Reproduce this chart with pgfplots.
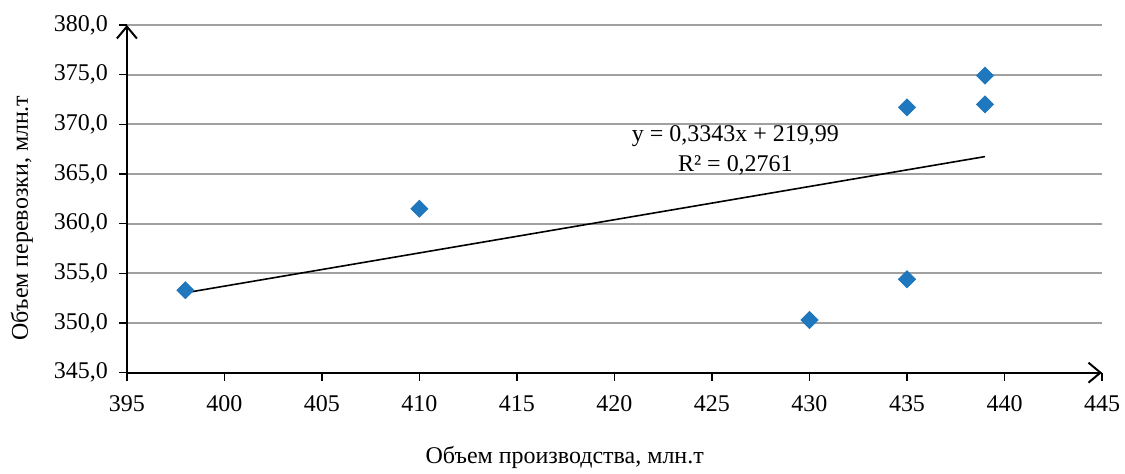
\documentclass[border=0pt]{standalone}
\usepackage{pgfplots}
\pgfplotsset{compat=1.18}
\usetikzlibrary{arrows.meta}
\usepackage{fontspec}
\setmainfont{Liberation Serif}
\definecolor{ptblue}{RGB}{31,119,189}
\definecolor{gridgray}{RGB}{160,160,160}
\begin{document}
\begin{tikzpicture}
\useasboundingbox (-63.5pt,-50.5pt) rectangle (499.5pt,186.5pt);
\begin{axis}[
  at={(0,0)}, anchor=south west,
  scale only axis, width=488pt, height=174pt,
  xmin=395, xmax=445, ymin=345, ymax=380,
  xtick={395,400,...,445}, ytick={345,350,...,380},
  axis x line=bottom, axis y line=left,
  axis line style={line width=1pt, -{Straight Barb[length=6pt,width=10pt,line width=1pt]}},
  tick align=outside, major tick length=4pt,
  tick style={black, line width=0.8pt},
  ymajorgrids, grid style={gridgray, line width=1pt},
  tick label style={font=\fontsize{12}{14}\selectfont},
  xticklabel={\pgfmathprintnumber[assume math mode=true,fixed,precision=0]{\tick}},
  yticklabel={\pgfmathprintnumber[assume math mode=true,fixed,fixed zerofill,precision=1,use comma]{\tick}},
  yticklabel style={xshift=-2pt},
  xticklabel style={yshift=-4pt},
  label style={font=\fontsize{12}{14}\selectfont},
  xlabel={Объем производства, млн.т},
  xlabel style={at={(axis description cs:0.449,-0.2443)}, anchor=center},
  ylabel={Объем перевозки, млн.т},
  ylabel style={at={(axis description cs:-0.1076,0.445)}, anchor=center},
  clip=false,
]
\addplot[only marks, mark=square*, mark size=3pt, mark options={rotate=45, fill=ptblue, draw=ptblue}] coordinates {
  (398,353.3) (410,361.5) (430,350.3) (435,354.4) (435,371.7) (439,372.0) (439,374.9)
};
\addplot[black, line width=0.8pt, mark=none] coordinates {(398,353.04) (439,366.75)};
\node[align=center, font=\fontsize{12}{15}\selectfont] at (axis cs:426.2,367.4) {y = 0,3343x + 219,99\\R² = 0,2761};
\end{axis}
\end{tikzpicture}
\end{document}
